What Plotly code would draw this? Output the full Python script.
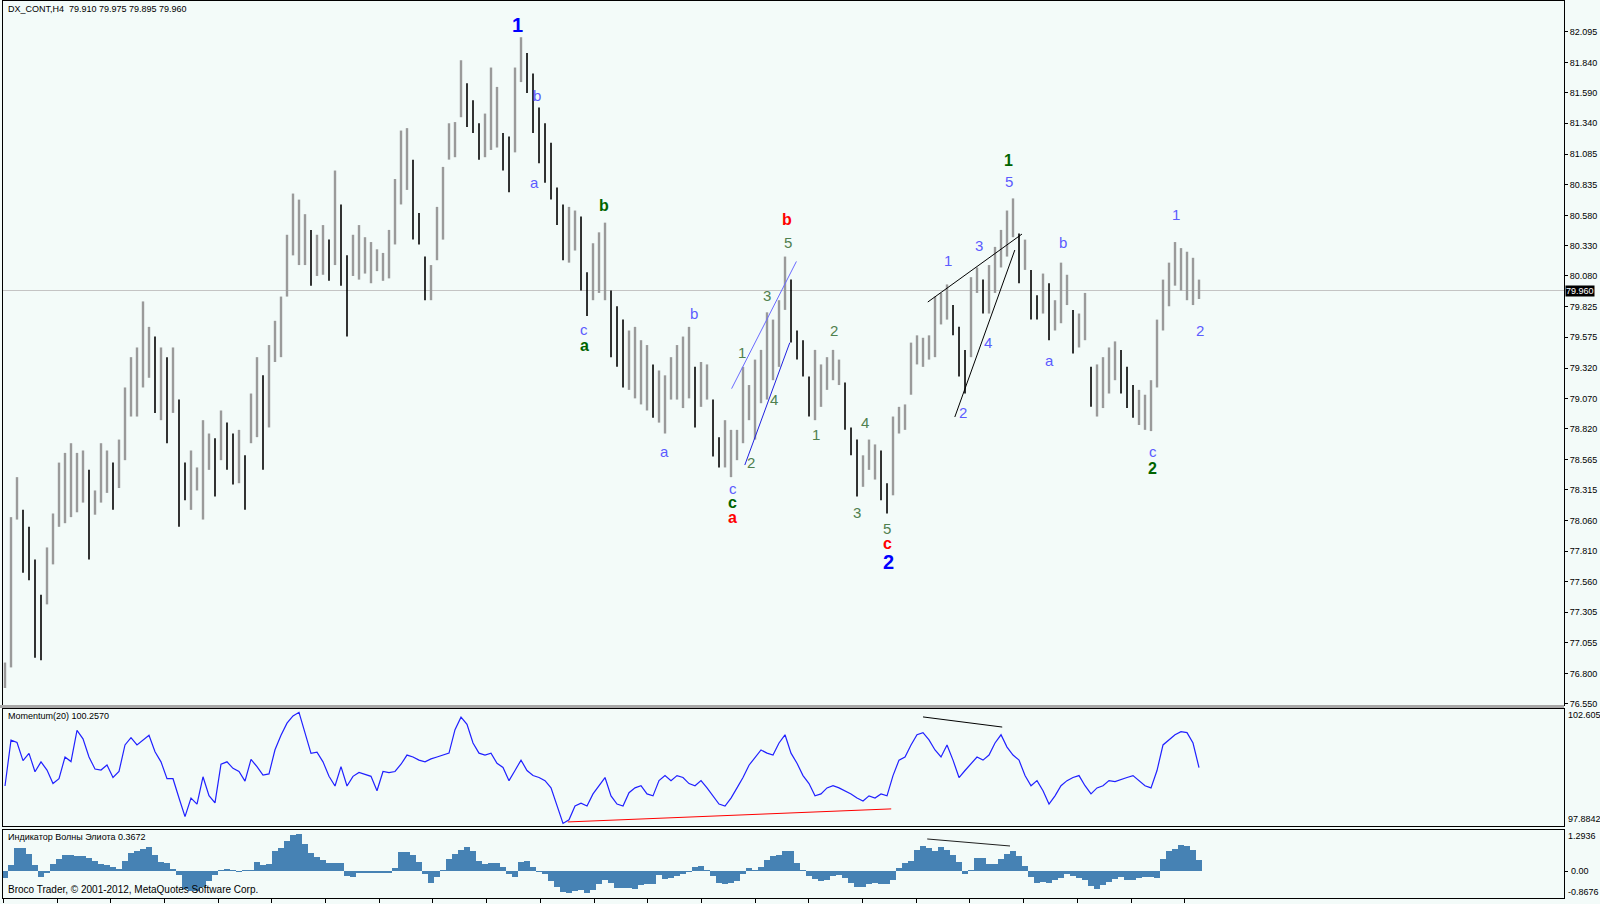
import plotly.graph_objects as go

# ---------------- data ----------------
bar_highs = [
    76.89, 78.09, 78.42, 78.15, 78.01, 77.74, 77.45, 77.84, 78.12, 78.54,
    78.62, 78.70, 78.62, 78.64, 78.48, 78.31, 78.70, 78.64, 78.54, 78.73,
    79.16, 79.41, 79.49, 79.87, 79.66, 79.58, 79.49, 79.41, 79.49, 79.06,
    78.54, 78.64, 78.50, 78.89, 78.78, 78.74, 78.97, 78.87, 78.78, 78.81,
    78.60, 79.11, 79.41, 79.26, 79.51, 79.71, 79.91, 80.42, 80.76, 80.71,
    80.59, 80.46, 80.42, 80.50, 80.38, 80.95, 80.67, 80.25, 80.42, 80.50,
    80.40, 80.36, 80.30, 80.27, 80.46, 80.88, 81.28, 81.30, 81.04, 80.60,
    80.24, 80.17, 80.65, 80.98, 81.34, 81.35, 81.86, 81.67, 81.53, 81.34,
    81.42, 81.80, 81.64, 81.26, 81.23, 81.80, 82.05, 81.92, 81.75, 81.47,
    81.34, 81.18, 80.81, 80.67, 80.65, 80.62, 80.57, 80.11, 80.35, 80.44,
    80.52, 79.96, 79.83, 79.72, 79.63, 79.66, 79.55, 79.51, 79.35, 79.30,
    79.26, 79.41, 79.51, 79.58, 79.66, 79.33, 79.37, 79.35, 79.06, 78.75,
    78.89, 78.81, 78.81, 79.33, 79.18, 79.39, 79.47, 79.78, 79.72, 79.88,
    80.24, 80.05, 79.63, 79.55, 79.25, 79.47, 79.35, 79.41, 79.47, 79.39,
    79.20, 78.83, 78.73, 78.60, 78.73, 78.69, 78.64, 78.37, 78.92, 79.00,
    79.02, 79.53, 79.59, 79.57, 79.59, 79.91, 79.94, 80.01, 79.84, 79.66,
    79.47, 80.07, 80.15, 80.05, 80.17, 80.32, 80.46, 80.62, 80.72, 80.43,
    80.38, 80.13, 79.92, 80.10, 80.02, 79.88, 80.19, 80.09, 79.80, 79.77,
    79.94, 79.33, 79.35, 79.41, 79.49, 79.54, 79.47, 79.33, 79.18, 79.14,
    79.10, 79.22, 79.72, 80.05, 80.19, 80.36, 80.31, 80.28, 80.23, 80.05,
]
bar_lows = [
    76.68, 76.85, 78.07, 77.63, 77.57, 76.93, 76.91, 77.37, 77.70, 78.01,
    78.04, 78.09, 78.13, 78.21, 77.74, 78.11, 78.21, 78.29, 78.15, 78.33,
    78.56, 78.92, 78.92, 79.16, 79.24, 78.95, 78.89, 78.70, 78.95, 78.01,
    78.23, 78.15, 78.31, 78.07, 78.48, 78.26, 78.56, 78.48, 78.36, 78.37,
    78.15, 78.70, 78.75, 78.48, 78.83, 79.37, 79.41, 79.91, 80.25, 80.17,
    80.17, 80.00, 80.08, 80.09, 80.04, 80.17, 80.00, 79.58, 80.08, 80.05,
    80.10, 80.02, 80.12, 80.04, 80.06, 80.34, 80.67, 80.79, 80.38, 80.34,
    79.88, 79.88, 80.21, 80.38, 81.04, 81.06, 81.39, 81.31, 81.26, 81.04,
    81.06, 81.12, 81.14, 80.95, 80.77, 81.10, 81.68, 81.59, 81.26, 81.01,
    80.85, 80.71, 80.50, 80.21, 80.19, 80.29, 79.96, 79.75, 79.88, 79.94,
    79.88, 79.41, 79.33, 79.16, 79.14, 79.07, 79.02, 78.97, 78.91, 78.87,
    78.78, 79.06, 79.06, 78.99, 79.07, 78.83, 79.00, 79.06, 78.59, 78.50,
    78.50, 78.42, 78.56, 78.70, 78.89, 78.73, 79.03, 79.06, 79.22, 79.33,
    79.80, 79.53, 79.39, 79.25, 78.92, 78.89, 79.00, 79.14, 79.22, 79.18,
    78.81, 78.60, 78.26, 78.34, 78.48, 78.40, 78.23, 78.12, 78.27, 78.78,
    78.81, 79.10, 79.35, 79.33, 79.39, 79.41, 79.68, 79.72, 79.59, 79.25,
    79.11, 79.41, 79.94, 79.77, 79.77, 79.94, 80.15, 80.24, 80.40, 80.02,
    80.13, 79.72, 79.72, 79.77, 79.55, 79.63, 79.69, 79.84, 79.44, 79.49,
    79.55, 79.00, 78.92, 78.99, 79.11, 79.22, 79.11, 78.99, 78.91, 78.85,
    78.81, 78.80, 79.16, 79.63, 79.83, 80.00, 79.96, 79.88, 79.84, 79.89,
]
momentum = [
    99.5, 101.4, 101.3, 100.55, 100.85, 100.09, 100.5, 100.16, 99.6, 99.8,
    100.7, 100.51, 101.8, 101.45, 100.7, 100.2, 100.16, 100.37, 99.85, 100.1,
    101.2, 101.5, 101.2, 101.4, 101.6, 100.92, 100.5, 99.8, 99.8, 99.0,
    98.23, 99.0, 98.75, 99.88, 99.1, 98.8, 100.4, 100.5, 100.23, 100.1,
    99.7, 100.6, 100.3, 99.95, 100.0, 101.0, 101.6, 102.1, 102.4, 102.55,
    101.7, 100.85, 100.9, 100.5, 99.9, 99.5, 100.3, 99.5, 99.9, 100.06,
    99.98, 99.9, 99.3, 100.1, 100.05, 100.1, 100.4, 100.78, 100.7, 100.57,
    100.5, 100.62, 100.7, 100.78, 100.86, 101.83, 102.35, 102.05, 101.28, 100.86,
    100.78, 100.86, 100.44, 100.27, 99.72, 100.14, 100.57, 100.14, 99.93, 99.85,
    99.72, 99.42, 98.67, 97.95, 98.1, 98.67, 98.79, 98.67, 99.17, 99.51,
    99.85, 99.09, 98.75, 98.67, 99.22, 99.42, 99.51, 99.17, 99.09, 99.72,
    99.93, 99.72, 99.93, 99.85, 99.6, 99.51, 99.72, 99.42, 99.09, 98.75,
    98.67, 99.0, 99.42, 99.85, 100.36, 100.7, 100.99, 100.86, 100.78, 101.28,
    101.62, 100.86, 100.44, 99.93, 99.6, 99.09, 99.17, 99.42, 99.51, 99.42,
    99.30, 99.17, 99.0, 98.88, 99.09, 99.0, 99.17, 99.09, 99.93, 100.57,
    100.7, 101.2, 101.62, 101.71, 101.41, 100.99, 100.7, 101.2, 100.57, 99.85,
    100.14, 100.44, 100.7, 100.57, 100.78, 101.28, 101.62, 101.11, 100.78, 100.57,
    99.93, 99.51, 99.72, 99.30, 98.75, 99.09, 99.51, 99.72, 99.85, 99.93,
    99.51, 99.17, 99.42, 99.51, 99.72, 99.68, 99.75, 99.85, 99.93, 99.72,
    99.51, 99.42, 100.14, 101.2, 101.41, 101.62, 101.75, 101.71, 101.28, 100.26,
]
elliott = [
    -0.22, 0.20, 0.75, 0.76, 0.55, 0.20, -0.20, -0.07, 0.24, 0.39,
    0.54, 0.51, 0.49, 0.50, 0.44, 0.33, 0.24, 0.20, 0.14, 0.05,
    0.33, 0.60, 0.66, 0.73, 0.78, 0.52, 0.30, 0.25, 0.04, -0.12,
    -0.58, -0.66, -0.66, -0.53, -0.33, -0.13, 0.01, 0.05, 0.02, -0.02,
    0.01, 0.02, 0.30, 0.20, 0.22, 0.65, 0.76, 0.97, 1.17, 1.20,
    0.90, 0.60, 0.46, 0.36, 0.27, 0.26, 0.25, -0.17, -0.19, -0.06,
    -0.04, -0.04, -0.05, -0.05, -0.04, 0.10, 0.63, 0.63, 0.53, 0.28,
    -0.10, -0.38, -0.20, 0.02, 0.40, 0.56, 0.68, 0.80, 0.64, 0.32,
    0.24, 0.26, 0.27, 0.13, -0.09, -0.20, 0.28, 0.34, 0.14, -0.02,
    -0.11, -0.32, -0.52, -0.68, -0.72, -0.66, -0.62, -0.73, -0.63, -0.43,
    -0.28, -0.39, -0.55, -0.56, -0.56, -0.58, -0.45, -0.41, -0.41, -0.12,
    -0.25, -0.23, -0.16, -0.10, -0.02, 0.12, 0.18, 0.02, -0.18, -0.38,
    -0.41, -0.40, -0.33, -0.10, 0.10, 0.02, 0.12, 0.35, 0.48, 0.52,
    0.64, 0.65, 0.25, 0.01, -0.17, -0.27, -0.32, -0.29, -0.17, -0.14,
    -0.24, -0.39, -0.53, -0.52, -0.43, -0.39, -0.43, -0.43, -0.28, 0.10,
    0.25, 0.34, 0.68, 0.83, 0.74, 0.66, 0.80, 0.68, 0.52, 0.30,
    -0.10, 0.02, 0.41, 0.42, 0.22, 0.22, 0.40, 0.55, 0.66, 0.50,
    0.15, -0.20, -0.38, -0.35, -0.40, -0.31, -0.22, -0.11, -0.15, -0.23,
    -0.31, -0.50, -0.60, -0.46, -0.36, -0.27, -0.20, -0.30, -0.30, -0.23,
    -0.20, -0.21, -0.22, 0.40, 0.67, 0.72, 0.85, 0.82, 0.70, 0.37,
]
price_ticks = [82.095, 81.840, 81.590, 81.340, 81.085, 80.835, 80.580, 80.330,
               80.080, 79.825, 79.575, 79.320, 79.070, 78.820, 78.565, 78.315,
               78.060, 77.810, 77.560, 77.305, 77.055, 76.800, 76.550]
momentum_max, momentum_min = 102.605, 97.8842
elliott_max, elliott_min = 1.2936, -0.8676
last_price = 79.960

# wave labels: (text, bar, price, colour, size, bold)
LB, GN, DG, RD, BL = "#5c5cff", "#4f804f", "#006400", "#ff0000", "#0000ff"
wave_labels = [
    ("1", 85.4, 82.155, BL, 20, True),
    ("b", 88.6, 81.57, LB, 15, False),
    ("a", 88.3, 80.85, LB, 15, False),
    ("b", 99.8, 80.66, DG, 16, True),
    ("c", 96.5, 79.64, LB, 15, False),
    ("a", 96.5, 79.51, DG, 16, True),
    ("b", 114.8, 79.77, LB, 15, False),
    ("a", 109.9, 78.63, LB, 15, False),
    ("b", 130.3, 80.55, RD, 16, True),
    ("5", 130.5, 80.36, GN, 15, False),
    ("3", 127.0, 79.92, GN, 15, False),
    ("1", 122.8, 79.45, GN, 15, False),
    ("4", 128.2, 79.06, GN, 15, False),
    ("2", 124.3, 78.54, GN, 15, False),
    ("c", 121.3, 78.33, LB, 15, False),
    ("c", 121.3, 78.21, DG, 16, True),
    ("a", 121.3, 78.09, RD, 16, True),
    ("2", 138.1, 79.63, GN, 15, False),
    ("1", 135.2, 78.77, GN, 15, False),
    ("4", 143.4, 78.87, GN, 15, False),
    ("3", 142.0, 78.13, GN, 15, False),
    ("5", 147.0, 78.00, GN, 15, False),
    ("c", 147.0, 77.87, RD, 16, True),
    ("2", 147.2, 77.72, BL, 20, True),
    ("1", 167.3, 81.03, DG, 16, True),
    ("5", 167.3, 80.86, LB, 15, False),
    ("1", 157.2, 80.21, LB, 15, False),
    ("3", 162.3, 80.33, LB, 15, False),
    ("4", 163.8, 79.53, LB, 15, False),
    ("2", 159.7, 78.95, LB, 15, False),
    ("b", 176.4, 80.36, LB, 15, False),
    ("a", 174.0, 79.38, LB, 15, False),
    ("c", 191.3, 78.63, LB, 15, False),
    ("2", 191.3, 78.49, DG, 16, True),
    ("1", 195.1, 80.59, LB, 15, False),
    ("2", 199.2, 79.63, LB, 15, False),
]
# drawn trend lines: (bar0, value0, bar1, value1, colour, axis)
trend_lines = [
    (121.1, 79.15, 131.9, 80.20, "#6a6aff", "y"),
    (123.3, 78.52, 130.8, 79.53, "#2020e0", "y"),
    (153.8, 79.865, 169.5, 80.426, "#000000", "y"),
    (158.3, 78.916, 168.3, 80.294, "#000000", "y"),
    (93.8, 98.01, 147.7, 98.55, "#ff0000", "y2"),
    (153.0, 102.36, 166.2, 101.94, "#000000", "y2"),
    (153.7, 1.05, 167.5, 0.82, "#202020", "y3"),
]

# ---------------- figure ----------------
BG = "#f3fbf9"
FONT = "Liberation Sans, Arial"
bars = list(range(len(bar_highs)))

up_x, up_y, dn_x, dn_y = [], [], [], []
prev_mid = None
for i, h, l in zip(bars, bar_highs, bar_lows):
    mid = (h + l) / 2
    if prev_mid is not None and mid < prev_mid - 0.08:
        dn_x += [i, i, None]; dn_y += [l, h, None]
    else:
        up_x += [i, i, None]; up_y += [l, h, None]
    prev_mid = mid

fig = go.Figure()
fig.add_trace(go.Scatter(x=up_x, y=up_y, mode="lines", line=dict(color="#9a9a9a", width=2.4),
                         xaxis="x", yaxis="y", hoverinfo="skip"))
fig.add_trace(go.Scatter(x=dn_x, y=dn_y, mode="lines", line=dict(color="#000000", width=1.6),
                         xaxis="x", yaxis="y", hoverinfo="skip"))
fig.add_trace(go.Scatter(x=bars, y=momentum, mode="lines", line=dict(color="#2020ff", width=1.2),
                         xaxis="x2", yaxis="y2", hoverinfo="skip"))
fig.add_trace(go.Bar(x=bars, y=elliott, width=1.0, marker=dict(color="#4682b4", line=dict(width=0)),
                     xaxis="x3", yaxis="y3", hoverinfo="skip"))

ax_map = {"y": "x", "y2": "x2", "y3": "x3"}
for b0, v0, b1, v1, col, ax in trend_lines:
    fig.add_trace(go.Scatter(x=[b0, b1], y=[v0, v1], mode="lines", line=dict(color=col, width=1),
                             xaxis=ax_map[ax], yaxis=ax, hoverinfo="skip"))

annotations = []
for txt, bx, py, col, size, bold in wave_labels:
    annotations.append(dict(x=bx, y=py, xref="x", yref="y", text=f"<b>{txt}</b>" if bold else txt,
                            showarrow=False, font=dict(family=FONT, size=size, color=col),
                            xanchor="center", yanchor="middle"))

TF = dict(family=FONT, size=9, color="#000000")
AF = dict(family=FONT, size=9, color="#000000")
annotations += [
    dict(x=0.002, y=0.991, xref="paper", yref="paper", text="DX_CONT,H4  79.910 79.975 79.895 79.960",
         showarrow=False, xanchor="left", yanchor="middle", font=TF),
    dict(x=0.002, y=0.2025, xref="paper", yref="paper", text="Momentum(20) 100.2570",
         showarrow=False, xanchor="left", yanchor="middle", font=TF),
    dict(x=0.002, y=0.0675, xref="paper", yref="paper", text="Индикатор Волны Элиота 0.3672",
         showarrow=False, xanchor="left", yanchor="middle", font=TF),
    dict(x=0.002, y=0.0095, xref="paper", yref="paper", text="Broco Trader, © 2001-2012, MetaQuotes Software Corp.",
         showarrow=False, xanchor="left", yanchor="middle", font=dict(family=FONT, size=10, color="#000000")),
    dict(x=1.0, y=last_price, xref="paper", yref="y", text=f"{last_price:.3f}", showarrow=False,
         xanchor="left", yanchor="middle", xshift=1, bgcolor="#000000", borderpad=0,
         font=dict(family=FONT, size=9, color="#ffffff")),
    # indicator window max/min scale labels
    dict(x=1.0, y=0.2040, xref="paper", yref="paper", text=f"{momentum_max:.3f}", showarrow=False,
         xanchor="left", yanchor="middle", xshift=2, font=AF),
    dict(x=1.0, y=0.0880, xref="paper", yref="paper", text=f"{momentum_min:.4f}", showarrow=False,
         xanchor="left", yanchor="middle", xshift=2, font=AF),
    dict(x=1.0, y=0.0690, xref="paper", yref="paper", text=f"{elliott_max:.4f}", showarrow=False,
         xanchor="left", yanchor="middle", xshift=2, font=AF),
    dict(x=1.0, y=0.0, xref="paper", yref="y3", text="0.00", showarrow=False,
         xanchor="left", yanchor="middle", xshift=5, font=AF),
    dict(x=1.0, y=0.0067, xref="paper", yref="paper", text=f"{elliott_min:.4f}", showarrow=False,
         xanchor="left", yanchor="middle", xshift=2, font=AF),
]

shapes = [
    dict(type="line", xref="paper", yref="y", x0=0, x1=1, y0=last_price, y1=last_price,
         line=dict(color="#c4c4c4", width=1), layer="below"),
    dict(type="line", xref="paper", yref="paper", x0=-0.002, x1=1.0, y0=0.2135, y1=0.2135,
         line=dict(color="#a8a8a8", width=3)),
]

axis_common = dict(showgrid=False, zeroline=False, showline=True, mirror=True,
                   linecolor="#000000", linewidth=1)
yfont = dict(family=FONT, size=9, color="#000000")
time_ticks = [-0.28 + 8.95 * k for k in range(23)]

fig.update_layout(
    width=1600, height=904,
    margin=dict(l=3, r=36, t=1, b=6, autoexpand=False),
    paper_bgcolor=BG, plot_bgcolor=BG,
    showlegend=False, bargap=0,
    annotations=annotations, shapes=shapes,
    xaxis=dict(domain=[0, 1], range=[-0.333, 259.83], anchor="y", showticklabels=False, ticks="", **axis_common),
    xaxis2=dict(domain=[0, 1], matches="x", anchor="y2", showticklabels=False, ticks="", **axis_common),
    xaxis3=dict(domain=[0, 1], matches="x", anchor="y3", showticklabels=False, ticks="outside",
                tickvals=time_ticks, ticklen=4, tickcolor="#000000", **axis_common),
    yaxis=dict(domain=[0.2152, 1.0], range=[76.54, 82.349], side="right", anchor="x",
               tickvals=price_ticks, ticktext=[f"{v:.3f}" for v in price_ticks],
               ticks="outside", ticklen=3, tickcolor="#000000", tickfont=yfont, **axis_common),
    yaxis2=dict(domain=[0.0803, 0.2107], range=[97.843, 102.688], side="right", anchor="x2",
                showticklabels=False, ticks="", **axis_common),
    yaxis3=dict(domain=[0.0, 0.0758], range=[-0.885, 1.344], side="right", anchor="x3",
                tickvals=[0.0], showticklabels=False,
                ticks="outside", ticklen=3, tickcolor="#000000", **axis_common),
)

fig.write_html("out.html", config={"displayModeBar": False},
               post_script="document.body.style.margin='0px';document.body.style.padding='0px';")
